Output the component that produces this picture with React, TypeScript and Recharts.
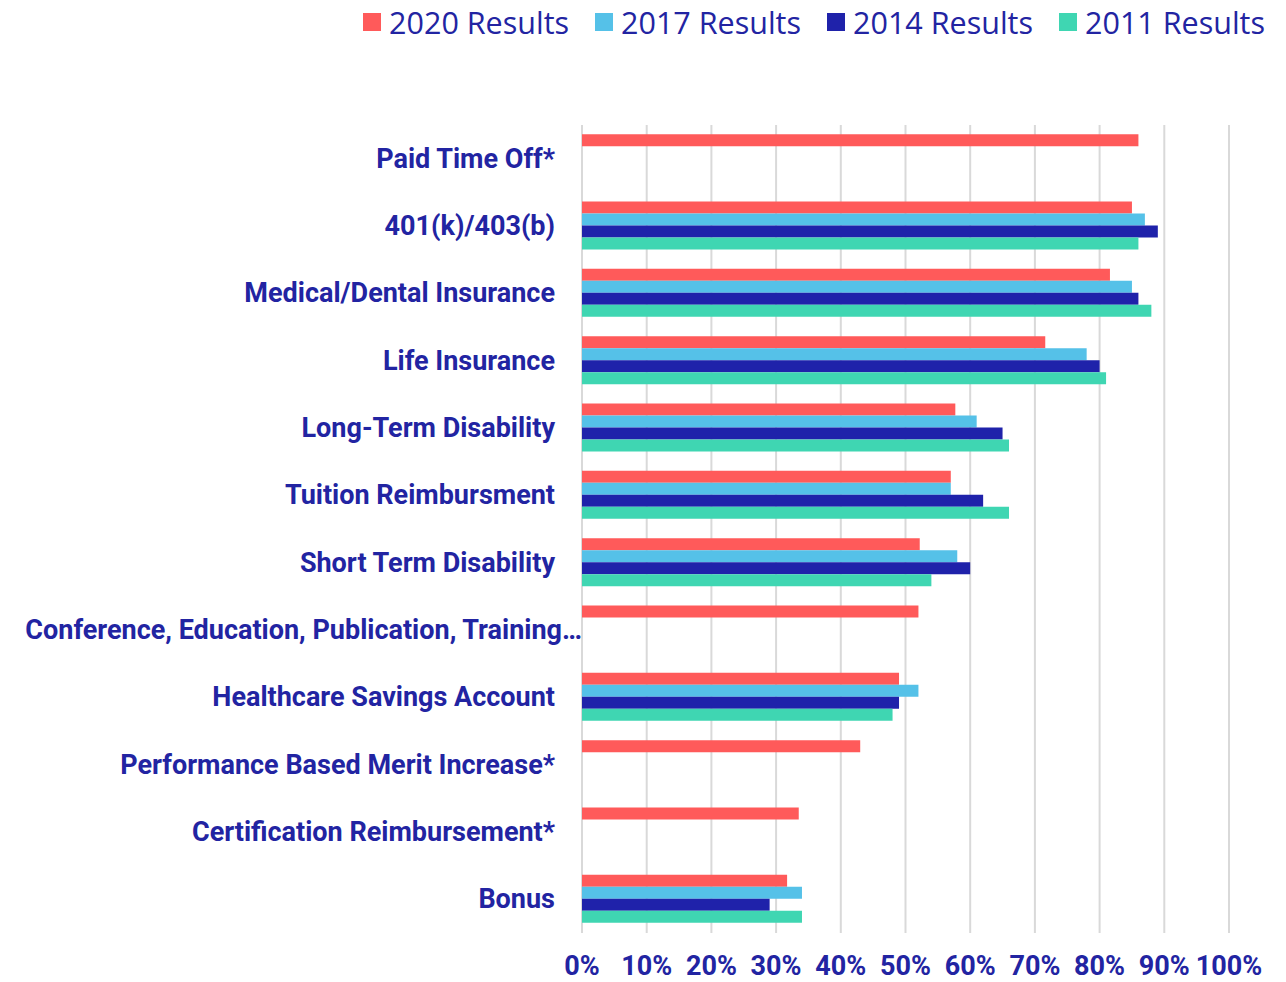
import { BarChart, Bar, XAxis, YAxis, CartesianGrid } from 'recharts';

const categories = [
  'Paid Time Off*',
  '401(k)/403(b)',
  'Medical/Dental Insurance',
  'Life Insurance',
  'Long-Term Disability',
  'Tuition Reimbursment',
  'Short Term Disability',
  'Conference, Education, Publication, Training…',
  'Healthcare Savings Account',
  'Performance Based Merit Increase*',
  'Certification Reimbursement*',
  'Bonus',
];

const results2020 = [86, 85, 81.6, 71.6, 57.7, 57, 52.2, 52, 49, 43, 33.5, 31.7];
const results2017 = [null, 87, 85, 78, 61, 57, 58, null, 52, null, null, 34];
const results2014 = [null, 89, 86, 80, 65, 62, 60, null, 49, null, null, 29];
const results2011 = [null, 86, 88, 81, 66, 66, 54, null, 48, null, null, 34];

const xTicks = [0, 10, 20, 30, 40, 50, 60, 70, 80, 90, 100];

const series = [
  { key: 'r2020', name: '2020 Results', color: '#FF5A5A' },
  { key: 'r2017', name: '2017 Results', color: '#55C1E8' },
  { key: 'r2014', name: '2014 Results', color: '#1F22AA' },
  { key: 'r2011', name: '2011 Results', color: '#3FD6B2' },
];

const data = categories.map((name, i) => ({
  name,
  r2020: results2020[i],
  r2017: results2017[i],
  r2014: results2014[i],
  r2011: results2011[i],
}));

const textColor = '#2224A2';
const labelFont = 'Roboto, "Noto Sans", sans-serif';

function CategoryTick({ x, y, payload }: any) {
  const long = String(payload.value).endsWith('…');
  return (
    <text
      x={long ? x : x - 27}
      y={y}
      dy={9}
      textAnchor="end"
      fill={textColor}
      fontFamily={labelFont}
      fontWeight="bold"
      fontSize={27}
    >
      {payload.value}
    </text>
  );
}

function PercentTick({ x, y, payload }: any) {
  return (
    <text
      x={x}
      y={y}
      dy={42}
      textAnchor="middle"
      fill={textColor}
      fontFamily={labelFont}
      fontWeight="bold"
      fontSize={27}
    >
      {payload.value}%
    </text>
  );
}

export default function App() {
  return (
    <div style={{ position: 'absolute', left: 0, top: 0, width: 1286, height: 982, background: '#fff' }}>
      <div
        style={{
          position: 'absolute',
          top: 1,
          right: 21,
          display: 'flex',
          gap: 26,
          fontFamily: '"Open Sans", sans-serif',
          fontSize: 30.5,
          color: textColor,
          whiteSpace: 'nowrap',
        }}
      >
        {series.map((s) => (
          <div key={s.key} style={{ display: 'flex', alignItems: 'center' }}>
            <span style={{ width: 18, height: 18, background: s.color, marginRight: 8, display: 'inline-block' }} />
            <span>{s.name}</span>
          </div>
        ))}
      </div>
      <BarChart
        width={1286}
        height={982}
        data={data}
        layout="vertical"
        margin={{ top: 125, right: 57, bottom: 0, left: 0 }}
        barCategoryGap="13.6%"
        barGap={0}
      >
        <CartesianGrid horizontal={false} stroke="#d9d9d9" strokeWidth={2} />
        <XAxis
          type="number"
          domain={[0, 100]}
          ticks={xTicks}
          interval={0}
          axisLine={false}
          tickLine={false}
          tickSize={0}
          tickMargin={0}
          height={49}
          tick={<PercentTick />}
        />
        <YAxis
          type="category"
          dataKey="name"
          width={582}
          interval={0}
          axisLine={false}
          tickLine={false}
          tickSize={0}
          tickMargin={0}
          tick={<CategoryTick />}
        />
        {series.map((s) => (
          <Bar key={s.key} dataKey={s.key} name={s.name} fill={s.color} isAnimationActive={false} />
        ))}
      </BarChart>
    </div>
  );
}
